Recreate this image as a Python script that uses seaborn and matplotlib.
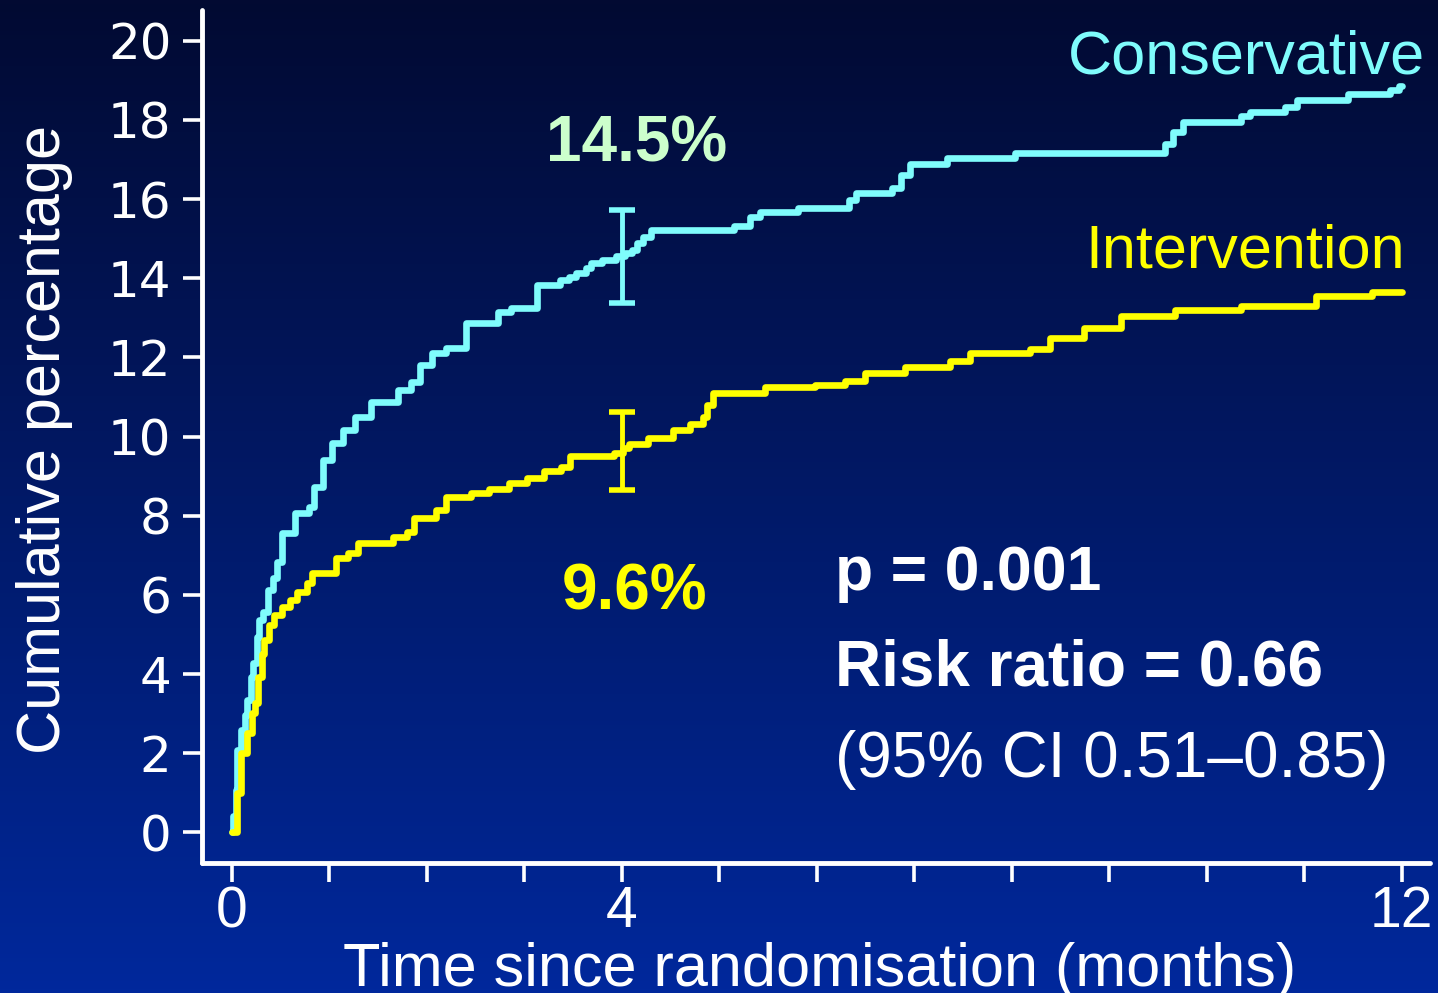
import numpy as np
import pandas as pd
import matplotlib
matplotlib.use("Agg")
import matplotlib.pyplot as plt
import seaborn as sns

# ---------------- data ----------------
cons_time = [0, 0.01, 0.05, 0.06, 0.10, 0.14, 0.16, 0.20, 0.22, 0.26, 0.28, 0.32, 0.37, 0.42,
             0.47, 0.52, 0.65, 0.79, 0.85, 0.94, 1.03, 1.14, 1.27, 1.43, 1.71, 1.84, 1.93,
             2.06, 2.20, 2.40, 2.73, 2.87, 3.13, 3.37, 3.46, 3.53, 3.63, 3.69, 3.80, 3.94,
             4.03, 4.11, 4.16, 4.22, 4.30, 5.15, 5.32, 5.42, 5.81, 6.33, 6.40, 6.77, 6.87,
             6.96, 7.34, 8.03, 9.57, 9.65, 9.76, 10.35, 10.44, 10.80, 10.93, 11.45, 11.88,
             11.97, 12.0]
cons_pct = [0, 0.40, 1.06, 2.07, 2.58, 2.96, 3.34, 3.92, 4.27, 4.93, 5.36, 5.56, 6.12, 6.42,
            6.83, 7.56, 8.07, 8.22, 8.72, 9.40, 9.83, 10.16, 10.50, 10.87, 11.18, 11.38, 11.80,
            12.10, 12.23, 12.87, 13.15, 13.25, 13.83, 13.96, 14.03, 14.12, 14.26, 14.39, 14.46,
            14.56, 14.64, 14.72, 14.90, 15.05, 15.22, 15.33, 15.56, 15.68, 15.78, 15.97, 16.15,
            16.28, 16.60, 16.90, 17.04, 17.17, 17.40, 17.70, 17.96, 18.10, 18.21, 18.33, 18.50,
            18.66, 18.76, 18.86, 18.86]

int_time = [0, 0.06, 0.10, 0.16, 0.21, 0.24, 0.27, 0.31, 0.33, 0.38, 0.44, 0.52, 0.60, 0.67,
            0.77, 0.82, 1.07, 1.19, 1.30, 1.66, 1.80, 1.87, 2.10, 2.20, 2.46, 2.64, 2.85, 3.03,
            3.20, 3.38, 3.47, 3.92, 4.01, 4.08, 4.27, 4.53, 4.70, 4.83, 4.88, 4.94, 5.47, 5.98,
            6.29, 6.50, 6.91, 7.37, 7.57, 8.19, 8.39, 8.74, 9.12, 9.68, 10.35, 11.12, 11.70, 12.0]
int_pct = [0, 0.98, 2.00, 2.50, 3.00, 3.26, 3.92, 4.50, 4.85, 5.23, 5.49, 5.69, 5.87, 6.07,
           6.30, 6.55, 6.93, 7.05, 7.30, 7.46, 7.58, 7.94, 8.14, 8.47, 8.57, 8.67, 8.83, 8.94,
           9.13, 9.23, 9.50, 9.59, 9.70, 9.81, 9.96, 10.16, 10.31, 10.49, 10.80, 11.10, 11.25,
           11.30, 11.40, 11.60, 11.75, 11.90, 12.10, 12.20, 12.49, 12.74, 13.05, 13.20, 13.31,
           13.55, 13.65, 13.65]

groups = ["Conservative", "Intervention"]
err_x = 4
err_center = [14.5, 9.6]
err_low = [13.37, 8.65]
err_high = [15.73, 10.62]

x_ticks = list(range(13))
x_ticklabels = ["0", "", "", "", "4", "", "", "", "", "", "", "", "12"]
y_ticks = list(range(0, 21, 2))

CYAN = "#7ffcfc"
YELLOW = "#ffff00"
GREEN = "#ccffcc"

df = pd.concat([
    pd.DataFrame({"time": cons_time, "pct": cons_pct, "group": groups[0]}),
    pd.DataFrame({"time": int_time, "pct": int_pct, "group": groups[1]}),
], ignore_index=True)

# ---------------- figure ----------------
sns.set_style("ticks")
plt.rcParams["font.family"] = ["Liberation Sans", "DejaVu Sans"]

W, H = 1438, 993
fig = plt.figure(figsize=(W / 100, H / 100), dpi=100)

# gradient background
bg = fig.add_axes([0, 0, 1, 1], zorder=-10)
top = np.array([2, 10, 50]) / 255.0
bot = np.array([0, 40, 156]) / 255.0
t = np.linspace(0, 1, 256)[:, None]
grad = top[None, :] * (1 - t) + bot[None, :] * t
bg.imshow(grad[:, None, :], aspect="auto", extent=[0, 1, 0, 1])
bg.set_axis_off()

left, right, bottom, topy = 202, 1430, 863, 10
ax = fig.add_axes([left / W, (H - bottom) / H, (right - left) / W, (bottom - topy) / H])
ax.patch.set_alpha(0)

sns.lineplot(data=df, x="time", y="pct", hue="group", palette={groups[0]: CYAN, groups[1]: YELLOW},
             estimator=None, sort=False, drawstyle="steps-post", linewidth=4.8, legend=False, ax=ax,
             solid_joinstyle="round", solid_capstyle="round")

for i, c in enumerate([CYAN, YELLOW]):
    ax.errorbar([err_x], [err_center[i]],
                yerr=[[err_center[i] - err_low[i]], [err_high[i] - err_center[i]]],
                fmt="none", ecolor=c, elinewidth=3.5, capsize=9.5, capthick=4)

ax.set_xlim(-0.303, 12.29)
ax.set_ylim(-0.78, 20.78)
ax.set_xticks(x_ticks)
ax.set_xticklabels(x_ticklabels)
ax.set_yticks(y_ticks)
ax.set_yticklabels([str(v) for v in y_ticks], fontfamily="DejaVu Sans", fontsize=36)
for lab in ax.get_xticklabels():
    lab.set_fontsize(41)

for s in ["top", "right"]:
    ax.spines[s].set_visible(False)
for s in ["left", "bottom"]:
    ax.spines[s].set_color("white")
    ax.spines[s].set_linewidth(3.5)
    ax.spines[s].set_capstyle("round")

ax.tick_params(axis="both", colors="white", direction="out", length=14, width=2.6)
ax.tick_params(axis="y", pad=8)
ax.tick_params(axis="x", pad=2)

ax.set_xlabel("Time since randomisation (months)", color="white", fontsize=44)
ax.set_ylabel("Cumulative percentage", color="white", fontsize=44)
ax.xaxis.set_label_coords(0.503, -0.093)
ax.yaxis.set_label_coords(-0.105, 0.496)


def ftext(px, py, s, **kw):
    fig.text(px / W, 1 - py / H, s, va="baseline", **kw)


ftext(1425, 74, "Conservative", color=CYAN, fontsize=44, ha="right")
ftext(1405, 268, "Intervention", color=YELLOW, fontsize=44, ha="right")
ftext(637, 162, "14.5%", color=GREEN, fontsize=46, fontweight="bold", ha="center")
ftext(635, 610, "9.6%", color=YELLOW, fontsize=46, fontweight="bold", ha="center")
ftext(835, 590, "p = 0.001", color="white", fontsize=45, fontweight="bold", ha="left")
ftext(835, 685, "Risk ratio = 0.66", color="white", fontsize=46, fontweight="bold", ha="left")
ftext(835, 777, "(95% CI 0.51\u20130.85)", color="white", fontsize=46, ha="left")

fig.savefig("out.png", dpi=100)
